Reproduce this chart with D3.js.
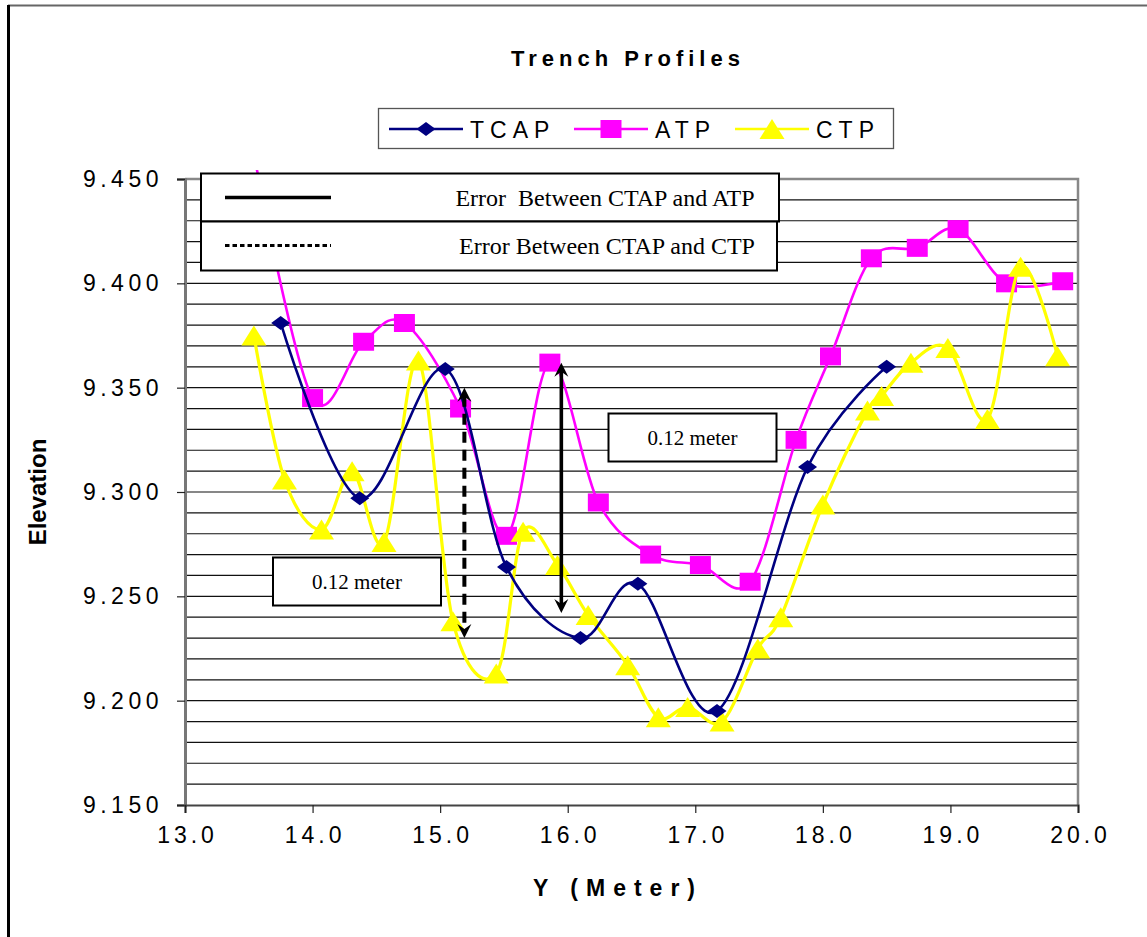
<!DOCTYPE html>
<html>
<head>
<meta charset="utf-8">
<script src="https://cdn.jsdelivr.net/npm/d3@7/dist/d3.min.js"></script>
<style>
  html, body { margin: 0; padding: 0; background: #fff; }
  svg { display: block; }
</style>
</head>
<body>
<svg id="chart" width="1147" height="937"></svg>
<script>
// Trench profile survey data: station (Y, metres) and elevation (metres)
const tcapX = [13.75, 14.37, 15.04, 15.52, 16.10, 16.55, 17.17, 17.88, 18.50];
const tcapY = [9.381, 9.297, 9.359, 9.264, 9.230, 9.256, 9.195, 9.312, 9.360];

const atpX = [13.54, 14.00, 14.40, 14.72, 15.16, 15.52, 15.86, 16.24, 16.65, 17.04,
              17.43, 17.79, 18.06, 18.38, 18.74, 19.06, 19.44, 19.88];
const atpY = [9.462, 9.345, 9.372, 9.381, 9.340, 9.279, 9.362, 9.295, 9.270, 9.265,
              9.257, 9.325, 9.365, 9.412, 9.417, 9.426, 9.400, 9.401];

const ctpX = [13.54, 13.78, 14.07, 14.31, 14.56, 14.83, 15.10, 15.44, 15.65, 15.92,
              16.16, 16.47, 16.71, 16.94, 17.21, 17.49, 17.67, 18.00, 18.35, 18.46,
              18.69, 18.98, 19.29, 19.55, 19.84];
const ctpY = [9.375, 9.306, 9.282, 9.310, 9.276, 9.363, 9.238, 9.213, 9.281, 9.265,
              9.241, 9.217, 9.192, 9.197, 9.190, 9.225, 9.240, 9.294, 9.339, 9.346,
              9.362, 9.369, 9.335, 9.408, 9.365];

const xTicks = [13, 14, 15, 16, 17, 18, 19, 20];
const yTicks = [9.15, 9.20, 9.25, 9.30, 9.35, 9.40, 9.45];

const seriesNames = ["TCAP", "ATP", "CTP"];

// Error arrows: station, top elevation, and the error they span
const errorSpan = 0.12;
const errorArrowX = [15.19, 15.95];
const errorArrowTop = [9.350, 9.362];
const errorArrowDashed = [true, false];

const errorLegendLabels = ["Error  Between CTAP and ATP", "Error Between CTAP and CTP"];
const errorBoxLabel = "0.12 meter";

// ---------------------------------------------------------------------------
const svg = d3.select("#chart");
const W = 1147, H = 937;
const plot = { left: 185, right: 1078, top: 179, bottom: 805 };

const x = d3.scaleLinear().domain([13, 20]).range([plot.left, plot.right]);
const y = d3.scaleLinear().domain([9.15, 9.45]).range([plot.bottom, plot.top]);

// Chart area frame
svg.append("rect").attr("x", 0).attr("y", 0).attr("width", W).attr("height", H).attr("fill", "#fff");
svg.append("line").attr("x1", 8).attr("x2", W + 5).attr("y1", 5.5).attr("y2", 5.5)
  .attr("stroke", "#666").attr("stroke-width", 2);
svg.append("line").attr("x1", 8.5).attr("x2", 8.5).attr("y1", 5).attr("y2", H + 5)
  .attr("stroke", "#000").attr("stroke-width", 3);

// Title
svg.append("text")
  .attr("x", 628).attr("y", 66)
  .attr("text-anchor", "middle")
  .style("font-family", "Arial, 'Liberation Sans', sans-serif")
  .style("font-weight", "bold").style("font-size", "22px").style("letter-spacing", "5px")
  .text("Trench Profiles");

// Horizontal gridlines every 0.01
const gridVals = d3.range(0, 31).map(i => +(9.15 + i * 0.01).toFixed(3));
svg.append("g").selectAll("line").data(gridVals.slice(1, -1)).join("line")
  .attr("x1", plot.left).attr("x2", plot.right)
  .attr("y1", d => y(d)).attr("y2", d => y(d))
  .attr("stroke", "#111").attr("stroke-width", 1.2);

// Plot border (top & right)
svg.append("path")
  .attr("d", `M${plot.left},${plot.top}H${plot.right}V${plot.bottom}`)
  .attr("fill", "none").attr("stroke", "#888").attr("stroke-width", 2.5);

// Axes
const fontAxis = "Arial, 'Liberation Sans', sans-serif";
const yAxis = d3.axisLeft(y).tickValues(yTicks).tickFormat(d3.format(".3f")).tickSize(8).tickPadding(14);
const gy = svg.append("g").attr("transform", `translate(${plot.left},0)`).call(yAxis);
gy.select(".domain").attr("stroke", "#777").attr("stroke-width", 3);
gy.selectAll(".tick line").attr("stroke", "#222").attr("stroke-width", 1.2);
gy.selectAll(".tick text")
  .style("font-family", fontAxis).style("font-size", "23px").style("letter-spacing", "4.5px")
  .attr("fill", "#000");

const xAxis = d3.axisBottom(x).tickValues(xTicks).tickFormat(d3.format(".1f")).tickSize(8).tickPadding(14);
const gx = svg.append("g").attr("transform", `translate(0,${plot.bottom})`).call(xAxis);
gx.select(".domain").attr("stroke", "#444").attr("stroke-width", 2.2);
gx.selectAll(".tick line").attr("stroke", "#222").attr("stroke-width", 1.2);
gx.selectAll(".tick text")
  .style("font-family", fontAxis).style("font-size", "23px").style("letter-spacing", "4px")
  .attr("fill", "#000").attr("dx", "2px");

// Axis titles
svg.append("text")
  .attr("transform", `translate(46,${(plot.top + plot.bottom) / 2}) rotate(-90)`)
  .attr("text-anchor", "middle")
  .style("font-family", fontAxis).style("font-weight", "bold").style("font-size", "24px")
  .text("Elevation");

svg.append("text")
  .attr("x", 618).attr("y", 896)
  .attr("text-anchor", "middle")
  .style("font-family", fontAxis).style("font-weight", "bold").style("font-size", "23px")
  .style("letter-spacing", "8px")
  .text("Y (Meter)");

// Series
svg.append("clipPath").attr("id", "seriesClip")
  .append("rect").attr("x", plot.left).attr("y", 170)
  .attr("width", plot.right - plot.left).attr("height", H - 170);

const layer = svg.append("g").attr("clip-path", "url(#seriesClip)");
const line = d3.line().x(d => x(d[0])).y(d => y(d[1])).curve(d3.curveCardinal.tension(0));

const diamond = (w, h) => `M0,${-h / 2}L${w / 2},0L0,${h / 2}L${-w / 2},0Z`;
const square = (w, h) => `M${-w / 2},${-h / 2}H${w / 2}V${h / 2}H${-w / 2}Z`;
const triangle = (w, h) => `M0,${-h / 2}L${w / 2},${h / 2}L${-w / 2},${h / 2}Z`;

const series = [
  { name: seriesNames[1], xs: atpX, ys: atpY, color: "#FF00FF", width: 2.6, shape: square(21, 18) },
  { name: seriesNames[2], xs: ctpX, ys: ctpY, color: "#FFFF00", width: 3.2, shape: triangle(25, 20) },
  { name: seriesNames[0], xs: tcapX, ys: tcapY, color: "#000080", width: 2.6, shape: diamond(19, 14) }
];

series.forEach(s => {
  const pts = s.xs.map((v, i) => [v, s.ys[i]]);
  layer.append("path").attr("d", line(pts))
    .attr("fill", "none").attr("stroke", s.color).attr("stroke-width", s.width)
    .attr("stroke-linejoin", "round");
  layer.append("g").selectAll("path").data(pts).join("path")
    .attr("transform", d => `translate(${x(d[0])},${y(d[1])})`)
    .attr("d", s.shape).attr("fill", s.color);
});

// Series legend
const legend = svg.append("g");
legend.append("rect").attr("x", 378.5).attr("y", 108.5).attr("width", 515).attr("height", 40)
  .attr("fill", "#fff").attr("stroke", "#555").attr("stroke-width", 1.3);
const legendItems = [
  { name: seriesNames[0], color: "#000080", shape: diamond(19, 14), x0: 389 },
  { name: seriesNames[1], color: "#FF00FF", shape: square(21, 18), x0: 574 },
  { name: seriesNames[2], color: "#FFFF00", shape: triangle(25, 20), x0: 735 }
];
legendItems.forEach(it => {
  const cy = 129;
  legend.append("line").attr("x1", it.x0).attr("x2", it.x0 + 74).attr("y1", cy).attr("y2", cy)
    .attr("stroke", it.color).attr("stroke-width", 2.6);
  legend.append("path").attr("transform", `translate(${it.x0 + 37},${cy})`)
    .attr("d", it.shape).attr("fill", it.color);
  legend.append("text").attr("x", it.x0 + 81).attr("y", cy + 9)
    .style("font-family", fontAxis).style("font-size", "23px").style("letter-spacing", "6px")
    .text(it.name);
});

// Error legend boxes
const serif = "'Liberation Serif', 'Times New Roman', serif";
const errBoxes = [
  { x: 201, y: 173.5, w: 578, h: 48, dashed: false, tx: 605 },
  { x: 201, y: 221.5, w: 576, h: 49, dashed: true, tx: 607 }
];
errBoxes.forEach((b, i) => {
  svg.append("rect").attr("x", b.x).attr("y", b.y).attr("width", b.w).attr("height", b.h)
    .attr("fill", "#fff").attr("stroke", "#000").attr("stroke-width", 2);
  svg.append("line").attr("x1", 225).attr("x2", 331)
    .attr("y1", b.y + 24).attr("y2", b.y + 24)
    .attr("stroke", "#000").attr("stroke-width", b.dashed ? 3 : 3.6)
    .attr("stroke-dasharray", b.dashed ? "4.5,3" : null);
  svg.append("text").attr("x", b.tx).attr("y", b.y + 32)
    .attr("text-anchor", "middle")
    .style("font-family", serif).style("font-size", "24px")
    .style("white-space", "pre").attr("xml:space", "preserve")
    .text(errorLegendLabels[i]);
});

// "0.12 meter" label boxes
const labelBoxes = [
  { x: 608.5, y: 413.5, w: 168, h: 48 },
  { x: 273, y: 557.5, w: 168, h: 48 }
];
labelBoxes.forEach(b => {
  svg.append("rect").attr("x", b.x).attr("y", b.y).attr("width", b.w).attr("height", b.h)
    .attr("fill", "#fff").attr("stroke", "#000").attr("stroke-width", 2);
  svg.append("text").attr("x", b.x + b.w / 2).attr("y", b.y + 31)
    .attr("text-anchor", "middle")
    .style("font-family", serif).style("font-size", "21px")
    .text(errorBoxLabel);
});

// Double-headed error arrows
const head = (tipX, tipY, dir) => {
  // dir = -1 for upward tip, +1 for downward tip
  const L = 14, Wd = 7, notch = 5;
  return `M${tipX},${tipY}L${tipX + Wd},${tipY - dir * L}L${tipX},${tipY - dir * (L - notch)}L${tipX - Wd},${tipY - dir * L}Z`;
};
errorArrowX.forEach((ax, i) => {
  const px = x(ax);
  const yTop = y(errorArrowTop[i]);
  const yBot = y(errorArrowTop[i] - errorSpan);
  svg.append("line").attr("x1", px).attr("x2", px)
    .attr("y1", yTop + 8).attr("y2", yBot - 8)
    .attr("stroke", "#000").attr("stroke-width", errorArrowDashed[i] ? 4 : 3.6)
    .attr("stroke-dasharray", errorArrowDashed[i] ? "11,7" : null);
  svg.append("path").attr("d", head(px, yTop, -1)).attr("fill", "#000");
  svg.append("path").attr("d", head(px, yBot, 1)).attr("fill", "#000");
});
</script>
</body>
</html>
